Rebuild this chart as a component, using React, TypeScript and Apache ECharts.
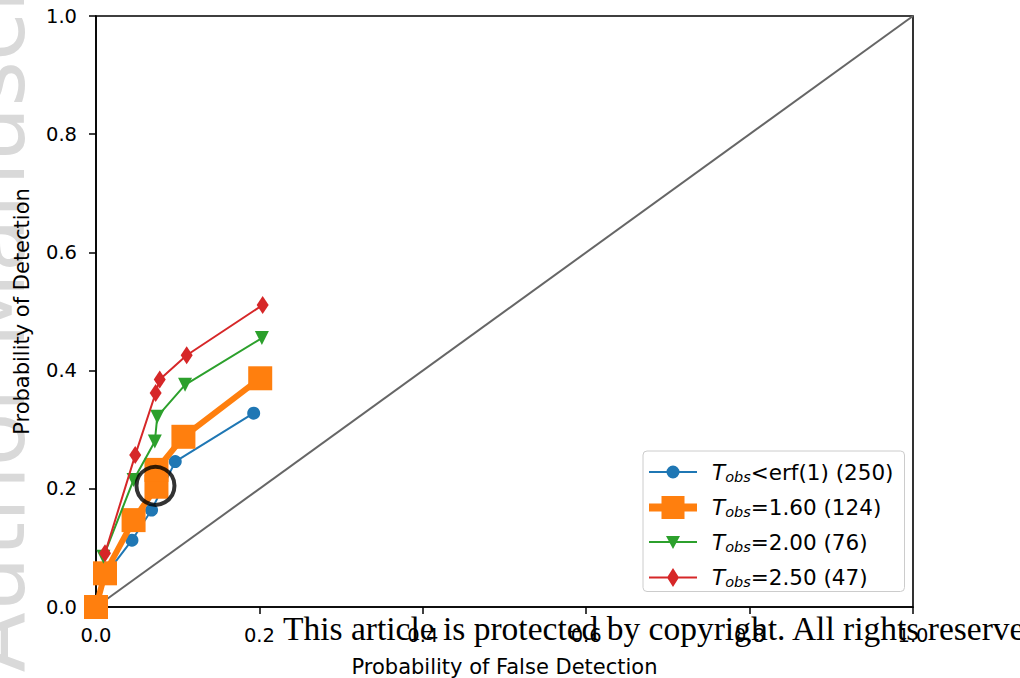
import React, { useEffect, useRef } from "react";
import * as echarts from "echarts";

const xTicks = [0, 0.2, 0.4, 0.6, 0.8, 1.0];
const yTicks = [0, 0.2, 0.4, 0.6, 0.8, 1.0];

const seriesSuffix = ["<erf(1) (250)", "=1.60 (124)", "=2.00 (76)", "=2.50 (47)"];
const seriesColors = ["#1f77b4", "#ff7f0e", "#2ca02c", "#d62728"];

const blueX = [0, 0.013, 0.044, 0.068, 0.097, 0.193];
const blueY = [0, 0.057, 0.113, 0.164, 0.246, 0.328];

const orangeX = [0, 0.011, 0.046, 0.074, 0.074, 0.107, 0.201];
const orangeY = [0, 0.057, 0.147, 0.2035, 0.232, 0.288, 0.387];

const greenX = [0.009, 0.046, 0.072, 0.075, 0.109, 0.203];
const greenY = [0.085, 0.215, 0.28, 0.322, 0.376, 0.455];

const redX = [0.011, 0.048, 0.073, 0.078, 0.111, 0.204];
const redY = [0.091, 0.257, 0.362, 0.385, 0.426, 0.511];

const diagX = [0, 1];
const diagY = [0, 1];

const circleX = [0.0728];
const circleY = [0.205];

const zip = (xs: number[], ys: number[]) => xs.map((x, i) => [x, ys[i]]);

// legend icons: line + marker, drawn in a 48-wide box centred on y = 0
const legendIcons = [
  "path://M0 -1 L48 -1 L48 1 L0 1 Z M30.5 0 A6.5 6.5 0 1 1 17.5 0 A6.5 6.5 0 1 1 30.5 0 Z",
  "path://M0 -4 L48 -4 L48 4 L0 4 Z M12.5 -11.5 L35.5 -11.5 L35.5 11.5 L12.5 11.5 Z",
  "path://M0 -1 L48 -1 L48 1 L0 1 Z M17 -6 L31 -6 L24 7 Z",
  "path://M0 -1 L48 -1 L48 1 L0 1 Z M24 -9.5 L30 0 L24 9.5 L18 0 Z",
];

export default function App() {
  const ref = useRef<HTMLDivElement>(null);
  useEffect(() => {
    if (!ref.current) return;
    const chart = echarts.init(ref.current, null, { renderer: "svg" });
    const names = seriesSuffix.map((s, i) => "s" + i);
    const font = "DejaVu Sans";
    const axisCommon = {
      type: "value",
      min: 0,
      max: 1,
      interval: 0.2,
      nameLocation: "middle",
      nameTextStyle: { fontSize: 21, color: "#000", fontFamily: font },
      axisLine: { show: true, lineStyle: { color: "#000", width: 1.6 } },
      axisTick: { show: true, length: 7, lineStyle: { color: "#000", width: 1.5 } },
      splitLine: { show: false },
    };
    const option: any = {
      animation: false,
      textStyle: { fontFamily: font },
      grid: {
        left: 96,
        right: 107,
        top: 16,
        bottom: 71,
        show: true,
        borderColor: "#000",
        borderWidth: 1.6,
        outerBoundsMode: "none",
        containLabel: false,
      },
      xAxis: {
        ...axisCommon,
        name: "Probability of False Detection",
        nameGap: 49,
        axisLabel: {
          fontSize: 19.5,
          color: "#000",
          margin: 18,
          formatter: (v: number) => v.toFixed(1),
          fontFamily: font,
          customValues: xTicks,
        },
      },
      yAxis: {
        ...axisCommon,
        name: "Probability of Detection",
        nameGap: 64,
        axisLabel: {
          fontSize: 19.5,
          color: "#000",
          margin: 19,
          formatter: (v: number) => v.toFixed(1),
          fontFamily: font,
          customValues: yTicks,
        },
      },
      legend: {
        data: names.map((n, i) => ({ name: n, icon: legendIcons[i] })),
        orient: "vertical",
        left: 643,
        top: 451,
        padding: [10, 11, 2, 6],
        itemWidth: 48,
        itemHeight: 26,
        itemGap: 12,
        borderColor: "#cccccc",
        borderWidth: 1,
        borderRadius: 4,
        backgroundColor: "#fff",
        formatter: (name: string) => {
          const i = Number(name.slice(1));
          return "{t|T}{s|obs}{n|" + seriesSuffix[i] + "}";
        },
        textStyle: {
          padding: [0, 0, 0, 10],
          rich: {
            t: { fontSize: 21.5, fontStyle: "italic", color: "#000", fontFamily: font, lineHeight: 26 },
            s: { fontSize: 14.5, fontStyle: "italic", color: "#000", fontFamily: font, padding: [9, 0, 0, 0] },
            n: { fontSize: 21.5, color: "#000", fontFamily: font, lineHeight: 26 },
          },
        },
      },
      series: [
        {
          name: "diag",
          type: "line",
          data: zip(diagX, diagY),
          showSymbol: false,
          symbol: "none",
          lineStyle: { color: "#666666", width: 2 },
          silent: true,
          z: 1,
        },
        {
          name: names[0],
          type: "line",
          data: zip(blueX, blueY),
          symbol: "circle",
          symbolSize: 13,
          clip: false,
          color: seriesColors[0],
          lineStyle: { width: 2, color: seriesColors[0] },
          itemStyle: { color: seriesColors[0] },
          z: 2,
        },
        {
          name: names[1],
          type: "line",
          data: zip(orangeX, orangeY),
          symbol: "rect",
          symbolSize: 24,
          clip: false,
          color: seriesColors[1],
          lineStyle: { width: 6, color: seriesColors[1] },
          itemStyle: { color: seriesColors[1] },
          z: 3,
        },
        {
          name: names[2],
          type: "line",
          data: zip(greenX, greenY),
          symbol: "triangle",
          symbolRotate: 180,
          symbolSize: 14,
          clip: false,
          color: seriesColors[2],
          lineStyle: { width: 2, color: seriesColors[2] },
          itemStyle: { color: seriesColors[2] },
          z: 4,
        },
        {
          name: names[3],
          type: "line",
          data: zip(redX, redY),
          symbol: "diamond",
          symbolSize: [12, 18],
          clip: false,
          color: seriesColors[3],
          lineStyle: { width: 2, color: seriesColors[3] },
          itemStyle: { color: seriesColors[3] },
          z: 5,
        },
        {
          name: "circle",
          type: "scatter",
          data: zip(circleX, circleY),
          symbol: "circle",
          symbolSize: 38,
          itemStyle: { color: "rgba(0,0,0,0)", borderColor: "#000", borderWidth: 4 },
          z: 6,
          silent: true,
        },
      ],
      graphic: [
        {
          type: "text",
          x: 37,
          y: 267,
          rotation: Math.PI / 2,
          silent: true,
          z: -1,
          style: {
            text: "Author Manuscript",
            fontSize: 88,
            fontFamily: font,
            fill: "#d9d9d9",
            textAlign: "center",
            textVerticalAlign: "bottom",
          },
        },
        {
          type: "text",
          x: 283,
          y: 628,
          silent: true,
          z: 100,
          style: {
            text: "This article is protected by copyright. All rights reserved.",
            fontSize: 33.5,
            fontFamily: "Liberation Serif",
            fill: "#000",
            textAlign: "left",
            textVerticalAlign: "middle",
          },
        },
      ],
    };
    chart.setOption(option);
    return () => chart.dispose();
  }, []);
  return (
    <div
      ref={ref}
      style={{ position: "absolute", left: 0, top: 0, width: 1020, height: 678, background: "#fff" }}
    />
  );
}
